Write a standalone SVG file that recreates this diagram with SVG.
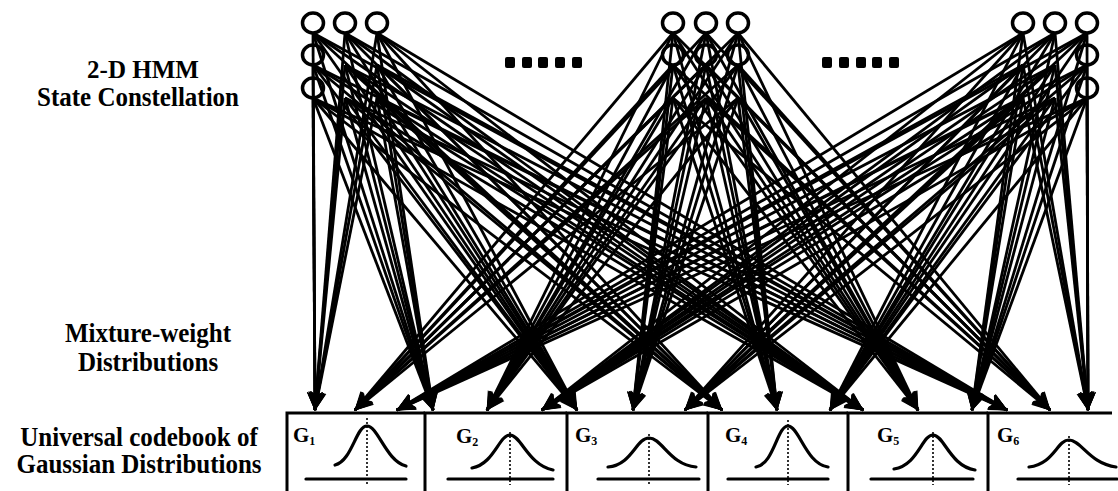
<svg xmlns="http://www.w3.org/2000/svg" width="1118" height="491" viewBox="0 0 1118 491">
<style>
text{font-family:"Liberation Serif","Times New Roman",serif;font-weight:bold;fill:#000}
.lbl{font-size:25px}
.g{font-size:21px}
.sub{font-size:12px}
#connectors line{stroke:#000;stroke-width:2.8;marker-end:url(#ah)}
.st{fill:none;stroke:#000;stroke-width:3.5}
.frame{stroke:#000;stroke-width:3;fill:none}
.curve{fill:none;stroke:#000;stroke-width:3.2;stroke-linecap:round}
.dot{stroke:#000;stroke-width:1.6;stroke-dasharray:2 2;fill:none}
.base{stroke:#000;stroke-width:3.2;stroke-linecap:round}
.sq{fill:#000}
</style>
<defs>
<marker id="ah" markerUnits="userSpaceOnUse" markerWidth="19" markerHeight="18" viewBox="0 0 19 18" refX="18" refY="9" orient="auto">
<path d="M0,1 L19,9 L0,17 L4,9 z" fill="#000"/>
</marker>
</defs>
<rect width="1118" height="491" fill="#fff"/>
<g id="connectors">
<line x1="313" y1="33" x2="315" y2="410"/><line x1="313" y1="33" x2="433" y2="410"/><line x1="313" y1="33" x2="577" y2="410"/><line x1="313" y1="33" x2="722" y2="410"/><line x1="313" y1="33" x2="863" y2="410"/><line x1="313" y1="33" x2="1007" y2="410"/>
<line x1="345" y1="33" x2="315" y2="410"/><line x1="345" y1="33" x2="433" y2="410"/><line x1="345" y1="33" x2="577" y2="410"/><line x1="345" y1="33" x2="722" y2="410"/><line x1="345" y1="33" x2="863" y2="410"/><line x1="345" y1="33" x2="1007" y2="410"/>
<line x1="377" y1="33" x2="315" y2="410"/><line x1="377" y1="33" x2="433" y2="410"/><line x1="377" y1="33" x2="577" y2="410"/><line x1="377" y1="33" x2="722" y2="410"/><line x1="377" y1="33" x2="863" y2="410"/><line x1="377" y1="33" x2="1007" y2="410"/>
<line x1="313" y1="65" x2="315" y2="410"/><line x1="313" y1="65" x2="433" y2="410"/><line x1="313" y1="65" x2="577" y2="410"/><line x1="313" y1="65" x2="722" y2="410"/><line x1="313" y1="65" x2="863" y2="410"/><line x1="313" y1="65" x2="1007" y2="410"/>
<line x1="313" y1="98" x2="315" y2="410"/><line x1="313" y1="98" x2="433" y2="410"/><line x1="313" y1="98" x2="577" y2="410"/><line x1="313" y1="98" x2="722" y2="410"/><line x1="313" y1="98" x2="863" y2="410"/><line x1="313" y1="98" x2="1007" y2="410"/>
<line x1="345" y1="65" x2="315" y2="410"/><line x1="345" y1="65" x2="433" y2="410"/><line x1="345" y1="65" x2="577" y2="410"/><line x1="345" y1="65" x2="722" y2="410"/><line x1="345" y1="65" x2="863" y2="410"/><line x1="345" y1="65" x2="1007" y2="410"/>
<line x1="377" y1="65" x2="315" y2="410"/><line x1="377" y1="65" x2="433" y2="410"/><line x1="377" y1="65" x2="577" y2="410"/><line x1="377" y1="65" x2="722" y2="410"/><line x1="377" y1="65" x2="863" y2="410"/><line x1="377" y1="65" x2="1007" y2="410"/>
<line x1="345" y1="98" x2="315" y2="410"/><line x1="345" y1="98" x2="433" y2="410"/><line x1="345" y1="98" x2="577" y2="410"/><line x1="345" y1="98" x2="722" y2="410"/><line x1="345" y1="98" x2="863" y2="410"/><line x1="345" y1="98" x2="1007" y2="410"/>
<line x1="377" y1="98" x2="315" y2="410"/><line x1="377" y1="98" x2="433" y2="410"/><line x1="377" y1="98" x2="577" y2="410"/><line x1="377" y1="98" x2="722" y2="410"/><line x1="377" y1="98" x2="863" y2="410"/><line x1="377" y1="98" x2="1007" y2="410"/>
<line x1="673" y1="33" x2="355" y2="410"/><line x1="673" y1="33" x2="487" y2="410"/><line x1="673" y1="33" x2="633" y2="410"/><line x1="673" y1="33" x2="777" y2="410"/><line x1="673" y1="33" x2="918" y2="410"/><line x1="673" y1="33" x2="1050" y2="410"/>
<line x1="706" y1="33" x2="355" y2="410"/><line x1="706" y1="33" x2="487" y2="410"/><line x1="706" y1="33" x2="633" y2="410"/><line x1="706" y1="33" x2="777" y2="410"/><line x1="706" y1="33" x2="918" y2="410"/><line x1="706" y1="33" x2="1050" y2="410"/>
<line x1="738" y1="33" x2="355" y2="410"/><line x1="738" y1="33" x2="487" y2="410"/><line x1="738" y1="33" x2="633" y2="410"/><line x1="738" y1="33" x2="777" y2="410"/><line x1="738" y1="33" x2="918" y2="410"/><line x1="738" y1="33" x2="1050" y2="410"/>
<line x1="673" y1="65" x2="355" y2="410"/><line x1="673" y1="65" x2="487" y2="410"/><line x1="673" y1="65" x2="633" y2="410"/><line x1="673" y1="65" x2="777" y2="410"/><line x1="673" y1="65" x2="918" y2="410"/><line x1="673" y1="65" x2="1050" y2="410"/>
<line x1="706" y1="65" x2="355" y2="410"/><line x1="706" y1="65" x2="487" y2="410"/><line x1="706" y1="65" x2="633" y2="410"/><line x1="706" y1="65" x2="777" y2="410"/><line x1="706" y1="65" x2="918" y2="410"/><line x1="706" y1="65" x2="1050" y2="410"/>
<line x1="738" y1="65" x2="355" y2="410"/><line x1="738" y1="65" x2="487" y2="410"/><line x1="738" y1="65" x2="633" y2="410"/><line x1="738" y1="65" x2="777" y2="410"/><line x1="738" y1="65" x2="918" y2="410"/><line x1="738" y1="65" x2="1050" y2="410"/>
<line x1="673" y1="98" x2="355" y2="410"/><line x1="673" y1="98" x2="487" y2="410"/><line x1="673" y1="98" x2="633" y2="410"/><line x1="673" y1="98" x2="777" y2="410"/><line x1="673" y1="98" x2="918" y2="410"/><line x1="673" y1="98" x2="1050" y2="410"/>
<line x1="706" y1="98" x2="355" y2="410"/><line x1="706" y1="98" x2="487" y2="410"/><line x1="706" y1="98" x2="633" y2="410"/><line x1="706" y1="98" x2="777" y2="410"/><line x1="706" y1="98" x2="918" y2="410"/><line x1="706" y1="98" x2="1050" y2="410"/>
<line x1="738" y1="98" x2="355" y2="410"/><line x1="738" y1="98" x2="487" y2="410"/><line x1="738" y1="98" x2="633" y2="410"/><line x1="738" y1="98" x2="777" y2="410"/><line x1="738" y1="98" x2="918" y2="410"/><line x1="738" y1="98" x2="1050" y2="410"/>
<line x1="1023" y1="33" x2="397" y2="410"/><line x1="1023" y1="33" x2="542" y2="410"/><line x1="1023" y1="33" x2="685" y2="410"/><line x1="1023" y1="33" x2="830" y2="410"/><line x1="1023" y1="33" x2="972" y2="410"/><line x1="1023" y1="33" x2="1088" y2="410"/>
<line x1="1055" y1="33" x2="397" y2="410"/><line x1="1055" y1="33" x2="542" y2="410"/><line x1="1055" y1="33" x2="685" y2="410"/><line x1="1055" y1="33" x2="830" y2="410"/><line x1="1055" y1="33" x2="972" y2="410"/><line x1="1055" y1="33" x2="1088" y2="410"/>
<line x1="1087" y1="33" x2="397" y2="410"/><line x1="1087" y1="33" x2="542" y2="410"/><line x1="1087" y1="33" x2="685" y2="410"/><line x1="1087" y1="33" x2="830" y2="410"/><line x1="1087" y1="33" x2="972" y2="410"/><line x1="1087" y1="33" x2="1088" y2="410"/>
<line x1="1087" y1="65" x2="397" y2="410"/><line x1="1087" y1="65" x2="542" y2="410"/><line x1="1087" y1="65" x2="685" y2="410"/><line x1="1087" y1="65" x2="830" y2="410"/><line x1="1087" y1="65" x2="972" y2="410"/><line x1="1087" y1="65" x2="1088" y2="410"/>
<line x1="1087" y1="98" x2="397" y2="410"/><line x1="1087" y1="98" x2="542" y2="410"/><line x1="1087" y1="98" x2="685" y2="410"/><line x1="1087" y1="98" x2="830" y2="410"/><line x1="1087" y1="98" x2="972" y2="410"/><line x1="1087" y1="98" x2="1088" y2="410"/>
<line x1="1023" y1="65" x2="397" y2="410"/><line x1="1023" y1="65" x2="542" y2="410"/><line x1="1023" y1="65" x2="685" y2="410"/><line x1="1023" y1="65" x2="830" y2="410"/><line x1="1023" y1="65" x2="972" y2="410"/><line x1="1023" y1="65" x2="1088" y2="410"/>
<line x1="1055" y1="65" x2="397" y2="410"/><line x1="1055" y1="65" x2="542" y2="410"/><line x1="1055" y1="65" x2="685" y2="410"/><line x1="1055" y1="65" x2="830" y2="410"/><line x1="1055" y1="65" x2="972" y2="410"/><line x1="1055" y1="65" x2="1088" y2="410"/>
<line x1="1023" y1="98" x2="397" y2="410"/><line x1="1023" y1="98" x2="542" y2="410"/><line x1="1023" y1="98" x2="685" y2="410"/><line x1="1023" y1="98" x2="830" y2="410"/><line x1="1023" y1="98" x2="972" y2="410"/><line x1="1023" y1="98" x2="1088" y2="410"/>
<line x1="1055" y1="98" x2="397" y2="410"/><line x1="1055" y1="98" x2="542" y2="410"/><line x1="1055" y1="98" x2="685" y2="410"/><line x1="1055" y1="98" x2="830" y2="410"/><line x1="1055" y1="98" x2="972" y2="410"/><line x1="1055" y1="98" x2="1088" y2="410"/>
</g>
<g id="states-left">
<ellipse class="st" cx="313" cy="23" rx="10.5" ry="10"/><ellipse class="st" cx="345" cy="23" rx="10.5" ry="10"/><ellipse class="st" cx="377" cy="23" rx="10.5" ry="10"/>
<ellipse class="st" cx="313" cy="55" rx="10.5" ry="10"/><ellipse class="st" cx="313" cy="88" rx="10.5" ry="10"/>
</g>
<g id="states-middle">
<ellipse class="st" cx="673" cy="23" rx="10.5" ry="10"/><ellipse class="st" cx="706" cy="23" rx="10.5" ry="10"/><ellipse class="st" cx="738" cy="23" rx="10.5" ry="10"/>
<ellipse class="st" cx="673" cy="55" rx="10.5" ry="10"/><ellipse class="st" cx="706" cy="55" rx="10.5" ry="10"/><ellipse class="st" cx="738" cy="55" rx="10.5" ry="10"/>
</g>
<g id="states-right">
<ellipse class="st" cx="1023" cy="23" rx="10.5" ry="10"/><ellipse class="st" cx="1055" cy="23" rx="10.5" ry="10"/><ellipse class="st" cx="1087" cy="23" rx="10.5" ry="10"/>
<ellipse class="st" cx="1087" cy="55" rx="10.5" ry="10"/><ellipse class="st" cx="1087" cy="88" rx="10.5" ry="10"/>
</g>
<g id="ellipsis-1">
<rect class="sq" x="505" y="57" width="10" height="11" rx="2"/><rect class="sq" x="522" y="57" width="10" height="11" rx="2"/><rect class="sq" x="538" y="57" width="10" height="11" rx="2"/><rect class="sq" x="555" y="57" width="10" height="11" rx="2"/><rect class="sq" x="572" y="57" width="10" height="11" rx="2"/>
</g>
<g id="ellipsis-2">
<rect class="sq" x="822" y="57" width="10" height="11" rx="2"/><rect class="sq" x="839" y="57" width="10" height="11" rx="2"/><rect class="sq" x="856" y="57" width="10" height="11" rx="2"/><rect class="sq" x="872" y="57" width="10" height="11" rx="2"/><rect class="sq" x="889" y="57" width="10" height="11" rx="2"/>
</g>
<g id="label-hmm">
<text class="lbl" x="143" y="78" text-anchor="middle">2-D HMM</text>
<text class="lbl" transform="translate(138,106) scale(1,1.06)" text-anchor="middle">State Constellation</text>
</g>
<g id="label-mixture">
<text class="lbl" transform="translate(148,342) scale(1,1.08)" text-anchor="middle">Mixture-weight</text>
<text class="lbl" transform="translate(148,371) scale(1,1.08)" text-anchor="middle">Distributions</text>
</g>
<g id="label-codebook">
<text class="lbl" transform="translate(139,446) scale(1,1.06)" text-anchor="middle">Universal codebook of</text>
<text class="lbl" transform="translate(139,473) scale(1,1.06)" text-anchor="middle">Gaussian Distributions</text>
</g>
<g id="G1">
<path class="frame" d="M287,491 V413 H425"/>
<text class="g" x="293" y="442">G<tspan class="sub" dy="3">1</tspan></text>
<path class="curve" d="M335,465 C352,461 356,426 367,426 C378,426 386,461 406,466"/>
<line class="dot" x1="367" y1="418" x2="367" y2="485"/>
<line class="base" x1="306" y1="479" x2="406" y2="479"/>
</g>
<g id="G2">
<path class="frame" d="M425,491 V413 H567"/>
<text class="g" x="456" y="443">G<tspan class="sub" dy="3">2</tspan></text>
<path class="curve" d="M472,468 C494,464 499,435 510,435 C521,435 528,465 553,470"/>
<line class="dot" x1="510" y1="432" x2="510" y2="485"/>
<line class="base" x1="448" y1="479" x2="553" y2="479"/>
</g>
<g id="G3">
<path class="frame" d="M567,491 V413 H708"/>
<text class="g" x="575" y="442">G<tspan class="sub" dy="3">3</tspan></text>
<path class="curve" d="M608,467 C632,465 636,438 649,438 C662,438 670,465 696,467"/>
<line class="dot" x1="649" y1="434" x2="649" y2="485"/>
<line class="base" x1="598" y1="479" x2="699" y2="479"/>
</g>
<g id="G4">
<path class="frame" d="M708,491 V413 H848"/>
<text class="g" x="725" y="442">G<tspan class="sub" dy="3">4</tspan></text>
<path class="curve" d="M756,467 C774,464 777,426 788,426 C799,426 806,464 828,467"/>
<line class="dot" x1="788" y1="420" x2="788" y2="485"/>
<line class="base" x1="728" y1="479" x2="828" y2="479"/>
</g>
<g id="G5">
<path class="frame" d="M848,491 V413 H988"/>
<text class="g" x="877" y="442">G<tspan class="sub" dy="3">5</tspan></text>
<path class="curve" d="M894,469 C918,465 922,435 933,435 C944,435 950,466 975,470"/>
<line class="dot" x1="933" y1="432" x2="933" y2="485"/>
<line class="base" x1="871" y1="479" x2="973" y2="479"/>
</g>
<g id="G6">
<path class="frame" d="M988,491 V413 H1112"/>
<text class="g" x="997" y="442">G<tspan class="sub" dy="3">6</tspan></text>
<path class="curve" d="M1029,467 C1054,464 1057,440 1069,440 C1081,440 1090,464 1116,467"/>
<line class="dot" x1="1069" y1="436" x2="1069" y2="485"/>
<line class="base" x1="1018" y1="479" x2="1117" y2="479"/>
</g>
</svg>
